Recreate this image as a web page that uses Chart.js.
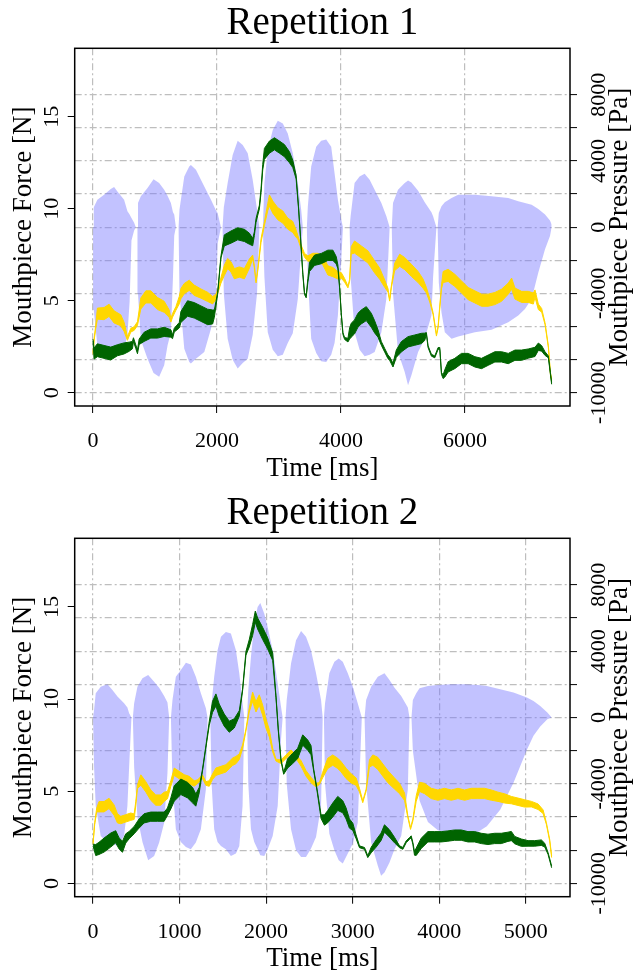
<!DOCTYPE html>
<html><head><meta charset="utf-8">
<script src="https://cdn.jsdelivr.net/npm/chart.js@4.4.0/dist/chart.umd.min.js"></script>
<style>
html,body{margin:0;padding:0;background:#fff;}
#wrap{position:relative;width:636px;height:975px;overflow:hidden;background:#fff;}
.box{position:absolute;left:0;width:636px;}
</style></head><body>
<div id="wrap">
<div class="box" style="top:0;height:490px"><canvas id="c1" width="636" height="490"></canvas></div>
<div class="box" style="top:490px;height:485px"><canvas id="c2" width="636" height="485"></canvas></div>
</div>
<script>
// ---------- tick labels ----------
const forceTicks = [0, 5, 10, 15];
const pressureTicks = [-10000, -8000, -6000, -4000, -2000, 0, 2000, 4000, 6000, 8000];
const pressureLabels = [-10000, -4000, 0, 4000, 8000];
const rep1TimeTicks = [0, 2000, 4000, 6000];
const rep2TimeTicks = [0, 1000, 2000, 3000, 4000, 5000];
const forceLim = [0, 18];
const pressureLim = [-10000, 10000];

// ---------- Repetition 1 ----------
const rep1GreenT = [0,16,70,178,286,393,501,582,636,652,690,717,744,825,932,1040,1148,1256,1283,1310,1391,1418,1525,1633,1741,1849,1930,1957,2010,2064,2118,2226,2334,2442,2523,2576,2603,2630,2657,2684,2711,2738,2765,2846,2927,3008,3088,3169,3223,3277,3315,3347,3385,3412,3439,3466,3493,3574,3681,3789,3870,3924,3951,3978,4005,4032,4059,4113,4140,4166,4220,4274,4328,4409,4490,4544,4598,4652,4706,4759,4786,4840,4894,4975,5083,5191,5298,5352,5379,5406,5460,5514,5568,5595,5622,5649,5676,5730,5837,5945,6053,6161,6269,6376,6484,6592,6700,6808,6915,7023,7131,7185,7239,7293,7347,7380,7400];
const rep1GreenF = [2.86,2.13,2.31,2.22,2.13,2.31,2.41,2.50,2.59,2.89,2.50,2.22,2.77,3.04,3.22,3.22,3.31,3.22,3.04,3.40,3.67,4.12,4.58,4.48,4.30,4.12,4.12,4.30,5.39,7.38,8.28,8.46,8.64,8.55,8.37,8.19,8.64,9.37,9.73,10.09,10.99,12.26,12.98,13.35,13.53,13.35,13.16,12.80,12.44,11.72,10.09,8.46,6.47,5.39,5.21,6.11,6.84,7.20,7.29,7.47,7.47,7.20,6.84,5.75,4.30,3.22,2.95,2.86,3.22,3.40,3.58,3.94,4.12,4.30,3.94,3.58,3.22,2.68,2.31,1.95,1.86,1.50,2.13,2.50,2.77,2.86,2.95,3.04,3.22,2.50,2.04,1.95,2.41,2.41,1.05,0.87,1.05,1.41,1.59,1.86,1.86,1.68,1.59,1.77,1.95,1.95,1.86,2.04,2.04,2.13,2.22,2.50,2.41,2.13,1.95,1.05,0.51];
const rep1GreenNoise = [0.05,0.3,0.35,0.35,0.35,0.3,0.3,0.25,0.2,0.1,0.1,0.1,0.15,0.25,0.25,0.25,0.25,0.2,0.1,0.1,0.15,0.3,0.42,0.42,0.42,0.42,0.38,0.2,0.05,0.05,0.3,0.33,0.33,0.33,0.3,0.2,0.1,0.1,0.1,0.1,0.1,0.15,0.3,0.33,0.33,0.33,0.33,0.3,0.2,0.1,0.05,0.05,0.05,0.05,0.05,0.1,0.25,0.28,0.28,0.28,0.28,0.2,0.1,0.05,0.05,0.05,0.05,0.1,0.3,0.38,0.38,0.38,0.38,0.38,0.38,0.33,0.2,0.1,0.1,0.1,0.1,0.1,0.2,0.28,0.28,0.28,0.28,0.2,0.05,0.05,0.05,0.05,0.05,0.05,0.05,0.1,0.2,0.28,0.28,0.28,0.28,0.28,0.28,0.28,0.28,0.28,0.28,0.28,0.28,0.25,0.25,0.2,0.15,0.1,0.05,0.05,0.05];
const rep1GoldT = [0,16,43,70,178,259,340,447,501,555,609,663,717,744,771,852,932,1040,1148,1229,1256,1283,1337,1391,1418,1472,1552,1633,1741,1849,1930,1984,2010,2064,2118,2172,2226,2280,2361,2442,2523,2576,2603,2630,2657,2711,2765,2819,2846,2900,2981,3062,3142,3223,3277,3304,3358,3412,3466,3547,3627,3708,3789,3870,3951,4005,4059,4113,4140,4166,4220,4328,4436,4544,4625,4706,4759,4786,4813,4867,4948,5029,5137,5245,5325,5379,5433,5487,5541,5568,5622,5649,5730,5837,5945,6053,6161,6269,6376,6484,6592,6700,6754,6808,6915,7023,7104,7131,7185,7239,7293,7347,7380,7400];
const rep1GoldF = [2.13,2.86,3.58,4.30,4.30,4.48,4.12,3.94,3.58,2.95,3.40,3.49,3.76,4.30,4.85,5.21,5.21,4.85,4.67,4.30,3.94,4.21,4.58,5.03,5.39,5.66,5.84,5.57,5.39,5.21,5.03,5.21,5.48,6.11,6.65,7.02,6.84,6.47,6.56,6.47,7.02,7.38,6.84,6.02,6.65,8.28,9.19,10.09,10.45,10.09,9.73,9.55,9.19,9.01,8.64,8.46,7.92,7.47,7.29,7.38,7.38,7.20,6.65,6.56,6.38,6.38,6.11,5.75,6.11,7.74,7.92,7.65,7.38,6.84,6.47,5.93,5.57,5.03,5.75,6.84,7.20,7.02,6.65,6.29,5.93,5.57,5.03,4.30,3.13,3.58,5.75,6.29,6.38,6.11,5.75,5.39,5.21,5.03,5.03,5.12,5.30,5.66,5.93,5.39,5.21,5.21,5.12,5.39,4.67,4.48,3.76,2.50,1.05,0.69];
const rep1GoldNoise = [0.05,0.05,0.1,0.3,0.33,0.33,0.33,0.3,0.25,0.1,0.1,0.1,0.1,0.2,0.3,0.33,0.33,0.33,0.3,0.2,0.1,0.1,0.1,0.2,0.28,0.28,0.28,0.28,0.25,0.25,0.2,0.15,0.1,0.15,0.28,0.28,0.28,0.28,0.28,0.28,0.25,0.1,0.05,0.05,0.05,0.1,0.1,0.2,0.3,0.33,0.33,0.33,0.3,0.3,0.2,0.1,0.1,0.1,0.15,0.2,0.2,0.25,0.25,0.25,0.2,0.15,0.1,0.05,0.05,0.2,0.33,0.33,0.33,0.33,0.3,0.2,0.1,0.05,0.05,0.2,0.33,0.33,0.33,0.3,0.25,0.15,0.1,0.05,0.05,0.05,0.1,0.3,0.33,0.33,0.33,0.33,0.33,0.33,0.33,0.33,0.33,0.3,0.3,0.3,0.3,0.3,0.3,0.2,0.15,0.1,0.05,0.05,0.05,0.05];
const rep1PressT = [0,12,70,178,286,340,393,501,555,590,620,663,690, 717,725,771,879,976,1067,1148,1202,1256,1290,1310,1337, 1380,1395,1472,1552,1579,1660,1795,1903,1984,2010,2064, 2090,2110,2172,2253,2334,2415,2496,2576,2646,2684, 2740,2765,2819,2900,2981,3062,3142,3223,3304,3358,3385, 3450,3466,3520,3601,3681,3762,3843,3897,3951,4005,4032, 4140,4156,4220,4301,4382,4463,4544,4652,4733,4786, 4820,4840,4921,5029,5083,5137,5245,5352,5460,5487,5541, 5560,5579,5622,5676,5785,5892,6161,6431,6700,6861,6969,7077,7185,7293,7373,7400];
const rep1PressHi = [0,1200,1660,1960,2300,2420,2160,1660,960,760,560,260,0, 0,1460,1860,2360,2900,2660,2260,1900,1460,900,760,0, 0,1060,3060,3660,3760,3460,2460,1660,1000,860,0, 0,1200,2660,4360,5220,4960,4460,2860,1060,0, 0,2660,4660,5860,6420,6260,5660,4460,2660,1060,0, 0,1260,3660,4860,5220,5300,4860,3260,1660,460,0, 0,660,2660,3060,3220,2860,2260,1460,660,0, 0,1460,2260,2660,2820,2700,2200,1500,900,660,0, 0,860,1260,1500,1760,1960,1960,1860,1760,1560,1460,1360,1100,760,400,160];
const rep1PressLo = [0,-5000,-7140,-7440,-7540,-7700,-7700,-7400,-6500,-4500,-800,-200,0, 0,-4000,-6800,-7940,-8800,-9040,-8340,-7140,-6340,-3000,-500,0, 0,-4000,-7340,-8140,-8240,-7940,-7540,-6140,-4340,-1000,0, 0,-4000,-6740,-8000,-8540,-8200,-7940,-6500,-4000,0, 0,-3000,-6340,-7400,-7800,-7700,-7000,-6400,-4340,-1340,0, 0,-3000,-6740,-7600,-8100,-8140,-7700,-7000,-5340,-2000,0, 0,-3000,-6340,-7400,-7800,-7700,-7540,-6340,-4340,0, 0,-4000,-7540,-8740,-9540,-8940,-7540,-6740,-5340,-3000,0, 0,-3340,-5140,-6340,-6740,-6600,-6340,-6200,-5740,-5340,-4940,-4340,-2740,-1340,-540,0];

// ---------- Repetition 2 ----------
const rep2GreenT = [0,31,69,127,204,262,301,340,378,417,475,532,590,667,745,822,860,899,938,1015,1092,1150,1188,1227,1265,1304,1343,1381,1420,1458,1516,1574,1632,1690,1728,1767,1805,1844,1875,1902,1960,2018,2076,2114,2141,2172,2203,2249,2307,2365,2423,2481,2519,2550,2589,2635,2674,2712,2770,2828,2886,2924,2963,3002,3040,3079,3137,3175,3214,3272,3329,3368,3426,3484,3542,3580,3619,3657,3677,3696,3715,3735,3792,3870,3947,4024,4101,4178,4255,4333,4410,4487,4564,4641,4718,4795,4834,4873,4950,5027,5104,5181,5220,5258,5300];
const rep2GreenF = [2.08,1.81,1.90,2.08,2.35,2.53,2.17,1.99,2.44,2.62,2.89,3.25,3.53,3.62,3.62,3.62,3.89,4.34,4.88,5.24,5.06,4.79,4.52,5.06,6.15,7.41,8.68,9.58,9.95,9.40,8.86,8.50,8.68,9.22,10.49,12.48,13.02,13.74,14.47,14.10,13.56,13.02,12.30,10.13,8.32,6.69,5.97,6.51,6.78,7.05,7.78,7.50,7.23,6.15,5.06,3.62,3.44,3.62,3.98,4.34,4.16,3.80,3.25,3.07,2.53,1.99,1.90,1.45,1.81,2.17,2.53,2.98,2.71,2.35,1.99,1.90,2.26,2.44,2.53,2.17,1.63,1.72,2.17,2.53,2.53,2.53,2.57,2.62,2.62,2.53,2.53,2.44,2.39,2.44,2.44,2.53,2.57,2.35,2.21,2.17,2.17,2.21,2.08,1.63,0.90];
const rep2GreenNoise = [0.05,0.3,0.33,0.38,0.38,0.33,0.3,0.3,0.25,0.2,0.2,0.25,0.25,0.25,0.25,0.25,0.2,0.3,0.42,0.42,0.42,0.42,0.33,0.15,0.05,0.05,0.1,0.3,0.33,0.33,0.33,0.3,0.25,0.15,0.05,0.1,0.2,0.3,0.3,0.3,0.33,0.3,0.2,0.05,0.05,0.05,0.05,0.25,0.28,0.28,0.28,0.28,0.25,0.05,0.05,0.1,0.28,0.33,0.38,0.38,0.33,0.3,0.25,0.2,0.1,0.05,0.05,0.05,0.15,0.2,0.2,0.2,0.2,0.15,0.05,0.05,0.05,0.05,0.05,0.05,0.1,0.2,0.28,0.28,0.28,0.28,0.28,0.28,0.28,0.28,0.28,0.28,0.28,0.28,0.28,0.25,0.25,0.2,0.2,0.15,0.15,0.15,0.1,0.05,0.05];
const rep2GoldT = [0,19,42,69,127,185,243,282,320,378,436,475,494,513,552,610,667,725,783,822,860,899,938,995,1053,1111,1169,1208,1265,1304,1343,1381,1420,1478,1535,1574,1613,1651,1690,1728,1767,1805,1844,1883,1921,1960,1998,2037,2076,2114,2172,2230,2288,2346,2404,2461,2519,2577,2616,2654,2712,2770,2828,2866,2924,2982,3040,3079,3117,3156,3194,3233,3291,3349,3407,3484,3542,3600,3638,3669,3696,3735,3773,3831,3908,3985,4062,4140,4217,4294,4371,4448,4525,4603,4680,4757,4834,4911,4988,5066,5143,5201,5239,5277,5300];
const rep2GoldF = [2.17,3.25,3.98,4.16,4.16,4.34,3.98,3.53,3.44,3.53,3.62,3.62,4.34,5.24,5.61,5.24,4.79,4.52,4.52,4.70,4.79,5.42,6.06,5.88,5.70,5.61,5.42,5.52,5.79,5.42,5.42,5.79,6.06,6.15,6.24,6.42,6.60,6.69,6.87,7.41,8.32,9.40,10.13,9.58,9.95,9.40,8.68,8.14,7.23,6.69,6.60,6.87,7.14,6.87,6.51,5.97,5.61,5.33,5.42,5.88,6.51,6.69,6.51,6.33,5.97,5.70,5.52,5.06,4.43,5.06,6.51,6.69,6.51,6.15,5.79,5.42,5.15,4.70,3.62,2.98,3.44,4.61,5.24,5.15,4.88,4.79,4.88,4.79,4.88,4.79,4.88,4.88,4.88,4.79,4.70,4.61,4.52,4.43,4.34,4.30,4.16,3.89,3.25,2.35,1.45];
const rep2GoldNoise = [0.05,0.05,0.1,0.28,0.28,0.28,0.28,0.25,0.2,0.2,0.2,0.15,0.1,0.1,0.28,0.28,0.28,0.28,0.28,0.25,0.2,0.15,0.2,0.2,0.2,0.2,0.15,0.1,0.1,0.1,0.15,0.15,0.2,0.2,0.2,0.2,0.2,0.2,0.15,0.1,0.05,0.1,0.25,0.28,0.28,0.28,0.25,0.2,0.1,0.05,0.1,0.1,0.1,0.1,0.15,0.15,0.15,0.1,0.05,0.15,0.28,0.28,0.28,0.28,0.28,0.25,0.2,0.1,0.05,0.05,0.2,0.28,0.33,0.33,0.33,0.3,0.28,0.2,0.05,0.05,0.05,0.15,0.25,0.28,0.28,0.28,0.28,0.28,0.28,0.28,0.28,0.28,0.28,0.28,0.25,0.25,0.2,0.2,0.2,0.15,0.15,0.1,0.05,0.05,0.05];
const rep2PressT = [0,12,31,89,166,224,282,359,397,417,444, 460,475,513,571,637,706,764,822,860,880, 900,918,957,1015,1073,1130,1188,1246,1304,1323, 1355,1370,1400,1439,1478,1535,1593,1651,1690,1728,1748, 1780,1794,1825,1863,1902,1933,1979,2018,2076,2134,2172,2191, 2225,2238,2288,2346,2404,2461,2519,2577,2635,2654, 2668,2681,2731,2789,2839,2886,2944,3002,3059,3106, 3138,3156,3214,3291,3329,3368,3426,3484,3561,3638,3657, 3680,3696,3735,3773,3870,3985,4140,4294,4448,4551,4705,4859,5014,5090,5168,5250,5300];
const rep2PressHi = [0,460,1460,1860,2000,1660,1260,860,600,260,0, 0,860,1860,2360,2560,2160,1800,1300,900,0, 0,1060,2460,2860,3300,3200,2460,1460,560,0, 0,860,2460,4060,4860,5160,5060,4060,2660,860,0, 0,1660,3660,5660,6660,6900,6260,5460,4060,2060,660,0, 0,1060,3260,4660,5220,4860,4060,2660,1060,0, 0,860,2660,3360,3560,3360,2660,1860,860,0, 0,1060,1860,2460,2560,2660,2260,1800,1300,600,0, 0,1060,1460,1760,1900,1960,2000,2000,1960,1900,1700,1500,1200,1000,700,300,0];
const rep2PressLo = [0,-3000,-5340,-7140,-7540,-7600,-7740,-7140,-5340,-3000,0, 0,-3000,-6000,-7500,-8600,-8340,-7540,-6340,-3340,0, 0,-4000,-6740,-7500,-7800,-7940,-7540,-6740,-4340,0, 0,-4000,-6740,-7500,-7740,-7940,-8340,-8200,-7740,-5340,0, 0,-4000,-6740,-7500,-7940,-8300,-8340,-7940,-7140,-5340,-1340,0, 0,-4000,-6740,-8000,-8400,-8400,-7900,-7200,-5340,0, 0,-4000,-7000,-8000,-8600,-8800,-8200,-7600,-6340,0, 0,-4000,-7540,-8940,-9540,-9340,-8740,-7940,-7140,-4340,0, 0,-2000,-3500,-5000,-6300,-6800,-7000,-7000,-6900,-6560,-5560,-3930,-1950,-1100,-540,-100,0];

// ---------- styling ----------
const SERIF = "'Liberation Serif', 'Times New Roman', serif";
const GRID = '#bebebe';
const GRID_DASH = [7, 3, 2, 3];
const GREEN = '#006400';
const GOLD = '#ffd700';
const LAVENDER = 'rgba(120,120,255,0.45)';

function pts(ts, vs, ns, sign) {
  return ts.map((t, i) => ({ x: t, y: vs[i] + sign * (ns ? ns[i] : 0) }));
}
function ext(lim) { const r = lim[1] - lim[0]; return [lim[0] - 0.04 * r, lim[1] + 0.04 * r]; }

const framePlugin = {
  id: 'frame',
  afterDatasetsDraw(chart) {
    const a = chart.chartArea, ctx = chart.ctx;
    ctx.save();
    ctx.strokeStyle = '#000';
    ctx.lineWidth = 1.5;
    ctx.strokeRect(a.left, a.top, a.right - a.left, a.bottom - a.top);
    ctx.restore();
  }
};
const rightTitlePlugin = {
  id: 'rightTitle',
  afterDraw(chart) {
    const a = chart.chartArea, ctx = chart.ctx;
    ctx.save();
    ctx.translate(chart.width - 16, (a.top + a.bottom) / 2);
    ctx.rotate(-Math.PI / 2);
    ctx.font = '27px ' + SERIF;
    ctx.fillStyle = '#000';
    ctx.textAlign = 'center';
    ctx.textBaseline = 'middle';
    ctx.fillText('Mouthpiece Pressure [Pa]', 0, 0);
    ctx.restore();
  }
};

function makeChart(id, d) {
  const tMax = Math.max(...d.pT, ...d.gT, ...d.yT);
  const xl = ext([0, tMax]);
  const fl = ext(forceLim);
  const pl = ext(pressureLim);
  const lineDs = (data, color, order, fill) => ({
    data, yAxisID: 'y', borderColor: color, backgroundColor: color, borderWidth: 1,
    pointRadius: 0, tension: 0, fill, order
  });
  return new Chart(document.getElementById(id), {
    type: 'line',
    data: {
      datasets: [
        lineDs(pts(d.gT, d.gF, d.gN, -1), GREEN, 0, false),
        lineDs(pts(d.gT, d.gF, d.gN, 1), GREEN, 0, '-1'),
        lineDs(pts(d.yT, d.yF, d.yN, -1), GOLD, 1, false),
        lineDs(pts(d.yT, d.yF, d.yN, 1), GOLD, 1, '-1'),
        { data: pts(d.pT, d.pLo, null, 0), yAxisID: 'y2', borderWidth: 0, pointRadius: 0, tension: 0, fill: false, order: 2, borderColor: 'rgba(0,0,0,0)' },
        { data: pts(d.pT, d.pHi, null, 0), yAxisID: 'y2', borderWidth: 0, pointRadius: 0, tension: 0, fill: '-1', order: 2, borderColor: 'rgba(0,0,0,0)', backgroundColor: LAVENDER }
      ]
    },
    options: {
      responsive: false, animation: false, devicePixelRatio: 1,
      layout: { padding: 0 },
      plugins: {
        legend: { display: false }, tooltip: { enabled: false },
        title: { display: true, text: d.title, color: '#000', fullSize: false,
          font: { family: SERIF, size: 39, weight: 'normal' }, padding: { top: 0, bottom: 1.5 } }
      },
      scales: {
        x: {
          type: 'linear', min: xl[0], max: xl[1],
          afterBuildTicks: s => { s.ticks = d.xTicks.map(v => ({ value: v })); },
          afterFit: s => { s.height = d.xH; },
          grid: { color: GRID, lineWidth: 1.2, tickColor: '#000', tickLength: 7, tickWidth: 1, tickBorderDash: [] },
          border: { display: false, dash: GRID_DASH },
          ticks: { color: '#000', font: { family: SERIF, size: 22 }, padding: 15, maxRotation: 0, minRotation: 0, autoSkip: false, callback: v => String(v) },
          title: { display: true, text: 'Time [ms]', color: '#000', font: { family: SERIF, size: 27 }, padding: { top: 0, bottom: d.xTitlePad } }
        },
        y: {
          position: 'left', min: fl[0], max: fl[1],
          afterBuildTicks: s => { s.ticks = forceTicks.map(v => ({ value: v })); },
          afterFit: s => { s.width = 74.7; },
          grid: { drawOnChartArea: false, color: '#000', tickColor: '#000', tickLength: 7, tickWidth: 1 },
          border: { display: false },
          ticks: { color: '#000', font: { family: SERIF, size: 22 }, minRotation: 90, maxRotation: 90, crossAlign: 'center', padding: 4, autoSkip: false, callback: v => String(v) },
          title: { display: true, text: 'Mouthpiece Force [N]', color: '#000', font: { family: SERIF, size: 27 }, padding: { top: 8, bottom: 0 } }
        },
        y2: {
          position: 'right', min: pl[0], max: pl[1],
          afterBuildTicks: s => { s.ticks = pressureTicks.map(v => ({ value: v })); },
          afterFit: s => { s.width = 66; },
          grid: { drawOnChartArea: true, color: GRID, lineWidth: 1.2, tickColor: '#000', tickLength: 7, tickWidth: 1, tickBorderDash: [] },
          border: { display: false, dash: GRID_DASH },
          ticks: { color: '#000', font: { family: SERIF, size: 22 }, minRotation: 90, maxRotation: 90, crossAlign: 'center', padding: -9, autoSkip: false,
            callback: v => pressureLabels.includes(v) ? String(v) : '' }
        }
      }
    },
    plugins: [framePlugin, rightTitlePlugin]
  });
}

makeChart('c1', { title: 'Repetition 1', xTicks: rep1TimeTicks, xH: 84, xTitlePad: 5,
  gT: rep1GreenT, gF: rep1GreenF, gN: rep1GreenNoise,
  yT: rep1GoldT, yF: rep1GoldF, yN: rep1GoldNoise,
  pT: rep1PressT, pHi: rep1PressHi, pLo: rep1PressLo });
makeChart('c2', { title: 'Repetition 2', xTicks: rep2TimeTicks, xH: 78.3, xTitlePad: 0,
  gT: rep2GreenT, gF: rep2GreenF, gN: rep2GreenNoise,
  yT: rep2GoldT, yF: rep2GoldF, yN: rep2GoldNoise,
  pT: rep2PressT, pHi: rep2PressHi, pLo: rep2PressLo });
</script>
</body></html>
